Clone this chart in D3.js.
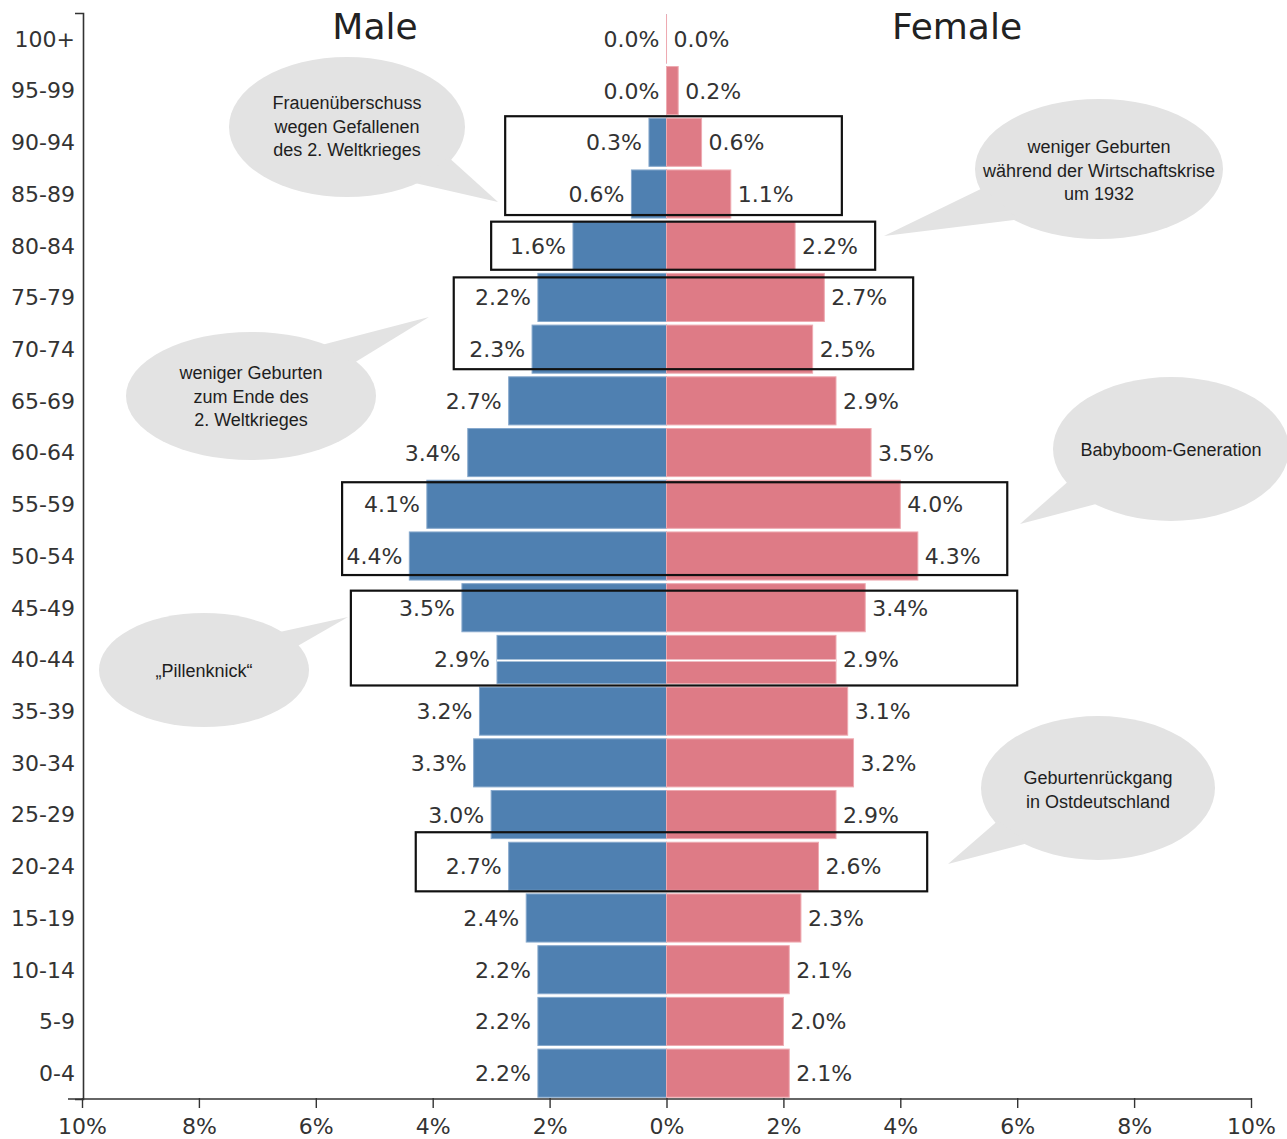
<!DOCTYPE html>
<html>
<head>
<meta charset="utf-8">
<script src="https://cdn.jsdelivr.net/npm/d3@7"></script>
<style>
  body { margin: 0; background: #fff; }
  svg { display: block; }
</style>
</head>
<body>
<svg id="chart" width="1287" height="1139"></svg>
<script>
// Age groups, oldest at the top
const ageGroups = ["100+", "95-99", "90-94", "85-89", "80-84", "75-79", "70-74",
  "65-69", "60-64", "55-59", "50-54", "45-49", "40-44", "35-39", "30-34",
  "25-29", "20-24", "15-19", "10-14", "5-9", "0-4"];

// Share of total population, percent
const maleShare = [0.0, 0.0, 0.3, 0.6, 1.6, 2.2, 2.3, 2.7, 3.4, 4.1, 4.4,
  3.5, 2.9, 3.2, 3.3, 3.0, 2.7, 2.4, 2.2, 2.2, 2.2];
const femaleShare = [0.0, 0.2, 0.6, 1.1, 2.2, 2.7, 2.5, 2.9, 3.5, 4.0, 4.3,
  3.4, 2.9, 3.1, 3.2, 2.9, 2.6, 2.3, 2.1, 2.0, 2.1];

const xTickValues = [-10, -8, -6, -4, -2, 0, 2, 4, 6, 8, 10];

// Highlight frames around groups of age bands (x in percent)
const highlightFrames = [
  { from: "90-94", to: "85-89", x0: -2.76, x1: 3.0, dTop: -2, dBottom: -3 },
  { from: "80-84", to: "80-84", x0: -3.0, x1: 3.57, dTop: 0, dBottom: 0 },
  { from: "75-79", to: "70-74", x0: -3.64, x1: 4.22, dTop: 4, dBottom: -4 },
  { from: "55-59", to: "50-54", x0: -5.55, x1: 5.83, dTop: 2, dBottom: -5 },
  { from: "45-49", to: "40-44", x0: -5.4, x1: 6.0, dTop: 7, dBottom: 2 },
  { from: "20-24", to: "20-24", x0: -4.29, x1: 4.46, dTop: -10, dBottom: 1 }
];

// Speech-bubble notes: ellipse centre/radii, tail tip and tail base angles
const notes = [
  { lines: ["Frauenüberschuss", "wegen Gefallenen", "des 2. Weltkrieges"],
    cx: 347, cy: 127, rx: 118, ry: 70, tip: [498, 202], a0: 27, a1: 55, ty: 103 },
  { lines: ["weniger Geburten", "während der Wirtschaftskrise", "um 1932"],
    cx: 1099, cy: 169, rx: 124, ry: 70, tip: [884, 236], a0: 164, a1: 132, ty: 147 },
  { lines: ["weniger Geburten", "zum Ende des", "2. Weltkrieges"],
    cx: 251, cy: 396, rx: 125, ry: 64, tip: [429, 317], a0: -55, a1: -32, ty: 373 },
  { lines: ["Babyboom-Generation"],
    cx: 1171, cy: 449, rx: 118, ry: 72, tip: [1020, 524], a0: 153, a1: 129, ty: 450 },
  { lines: ["\u201EPillenknick\u201C"],
    cx: 204, cy: 670, rx: 105, ry: 57, tip: [348, 617], a0: -43, a1: -25, ty: 671 },
  { lines: ["Geburtenrückgang", "in Ostdeutschland"],
    cx: 1098, cy: 788, rx: 117, ry: 72, tip: [948, 864], a0: 152, a1: 128, ty: 778 }
];

const svg = d3.select("#chart");
const axisFont = "'DejaVu Sans', sans-serif";
const noteFont = "'Liberation Sans', Arial, sans-serif";
const maleColor = "#4f80b1";
const femaleColor = "#de7b86";
const labelColor = "#333";

const x = d3.scaleLinear().domain([-10, 10]).range([82, 1251]);
const y = d3.scaleBand().domain(ageGroups).range([13, 1099])
  .paddingInner(0.07).paddingOuter(0.035);
const axisY = 1099;

const rows = ageGroups.map((age, i) => ({ age, male: maleShare[i], female: femaleShare[i] }));

// Bars (a hairline width keeps zero-share bands visible as a thin edge)
const bars = svg.append("g");
bars.selectAll("rect.male").data(rows).join("rect")
  .attr("class", "male")
  .attr("x", d => x(-d.male))
  .attr("width", d => Math.max(x(0) - x(-d.male), 0.01))
  .attr("y", d => y(d.age))
  .attr("height", y.bandwidth())
  .attr("fill", maleColor)
  .attr("stroke", "#86a8cc").attr("stroke-width", 1);
bars.selectAll("rect.female").data(rows).join("rect")
  .attr("class", "female")
  .attr("x", x(0))
  .attr("width", d => Math.max(x(d.female) - x(0), 0.01))
  .attr("y", d => y(d.age))
  .attr("height", y.bandwidth())
  .attr("fill", femaleColor)
  .attr("stroke", "#eeaab1").attr("stroke-width", 1);

// Value labels
const labels = svg.append("g")
  .style("font-family", axisFont).style("font-size", "22px").attr("fill", labelColor);
labels.selectAll("text.male").data(rows).join("text")
  .attr("x", d => x(-d.male) - 7)
  .attr("y", d => y(d.age) + y.bandwidth() / 2 + 8)
  .attr("text-anchor", "end")
  .text(d => d.male.toFixed(1) + "%");
labels.selectAll("text.female").data(rows).join("text")
  .attr("x", d => x(d.female) + 7)
  .attr("y", d => y(d.age) + y.bandwidth() / 2 + 8)
  .attr("text-anchor", "start")
  .text(d => d.female.toFixed(1) + "%");

// Thin white seam across the 40-44 band
const seam = rows.find(d => d.age === "40-44");
svg.append("line")
  .attr("x1", x(-seam.male)).attr("x2", x(seam.female))
  .attr("y1", y(seam.age) + y.bandwidth() / 2 + 1)
  .attr("y2", y(seam.age) + y.bandwidth() / 2 + 1)
  .attr("stroke", "#fff").attr("stroke-width", 2);

// Left axis with age labels
const gy = svg.append("g").attr("transform", `translate(${x(-10) + 1},0)`)
  .call(d3.axisLeft(y).tickSizeInner(0).tickSizeOuter(8).tickPadding(8));
gy.select(".domain").attr("stroke", "#333").attr("stroke-width", 1.6);
gy.selectAll(".tick text").style("font-family", axisFont).style("font-size", "22px")
  .attr("fill", labelColor).attr("dy", "0.36em");

// Bottom axis
const gx = svg.append("g").attr("transform", `translate(0,${axisY})`)
  .call(d3.axisBottom(x).tickValues(xTickValues).tickSize(9).tickSizeOuter(0).tickPadding(10)
    .tickFormat(d => Math.abs(d) + "%"));
gx.select(".domain").remove();
gx.append("line").attr("x1", x(-10) - 14).attr("x2", x(10) + 1)
  .attr("stroke", "#333").attr("stroke-width", 1.6);
gx.selectAll(".tick line").attr("stroke", "#333").attr("stroke-width", 1.4).attr("y1", -1);
gx.selectAll(".tick text").style("font-family", axisFont).style("font-size", "22px")
  .attr("fill", labelColor);

// Titles
svg.append("text").attr("x", 375).attr("y", 39).attr("text-anchor", "middle")
  .style("font-family", axisFont).style("font-size", "36px").attr("fill", "#222").text("Male");
svg.append("text").attr("x", 957).attr("y", 39).attr("text-anchor", "middle")
  .style("font-family", axisFont).style("font-size", "36px").attr("fill", "#222").text("Female");

// Highlight frames
svg.append("g").selectAll("rect").data(highlightFrames).join("rect")
  .attr("x", d => x(d.x0))
  .attr("width", d => x(d.x1) - x(d.x0))
  .attr("y", d => y(d.from) + d.dTop)
  .attr("height", d => y(d.to) + y.bandwidth() + d.dBottom - (y(d.from) + d.dTop))
  .attr("fill", "none").attr("stroke", "#111").attr("stroke-width", 2.2);

// Speech bubbles
const bubble = svg.append("g").selectAll("g").data(notes).join("g");
bubble.append("ellipse")
  .attr("cx", d => d.cx).attr("cy", d => d.cy).attr("rx", d => d.rx).attr("ry", d => d.ry)
  .attr("fill", "#e3e3e3");
bubble.append("path")
  .attr("d", d => {
    const p = a => [d.cx + d.rx * 0.97 * Math.cos(a * Math.PI / 180),
                    d.cy + d.ry * 0.97 * Math.sin(a * Math.PI / 180)];
    return d3.line()([p(d.a0), d.tip, p(d.a1)]) + "Z";
  })
  .attr("fill", "#e3e3e3");
bubble.each(function (d) {
  const t = d3.select(this).append("text")
    .attr("text-anchor", "middle")
    .style("font-family", noteFont).style("font-size", "18px").attr("fill", "#1e1e1e");
  d.lines.forEach((line, i) => {
    t.append("tspan").attr("x", d.cx).attr("y", d.ty + 6 + i * 23.5).text(line);
  });
});
</script>
</body>
</html>
